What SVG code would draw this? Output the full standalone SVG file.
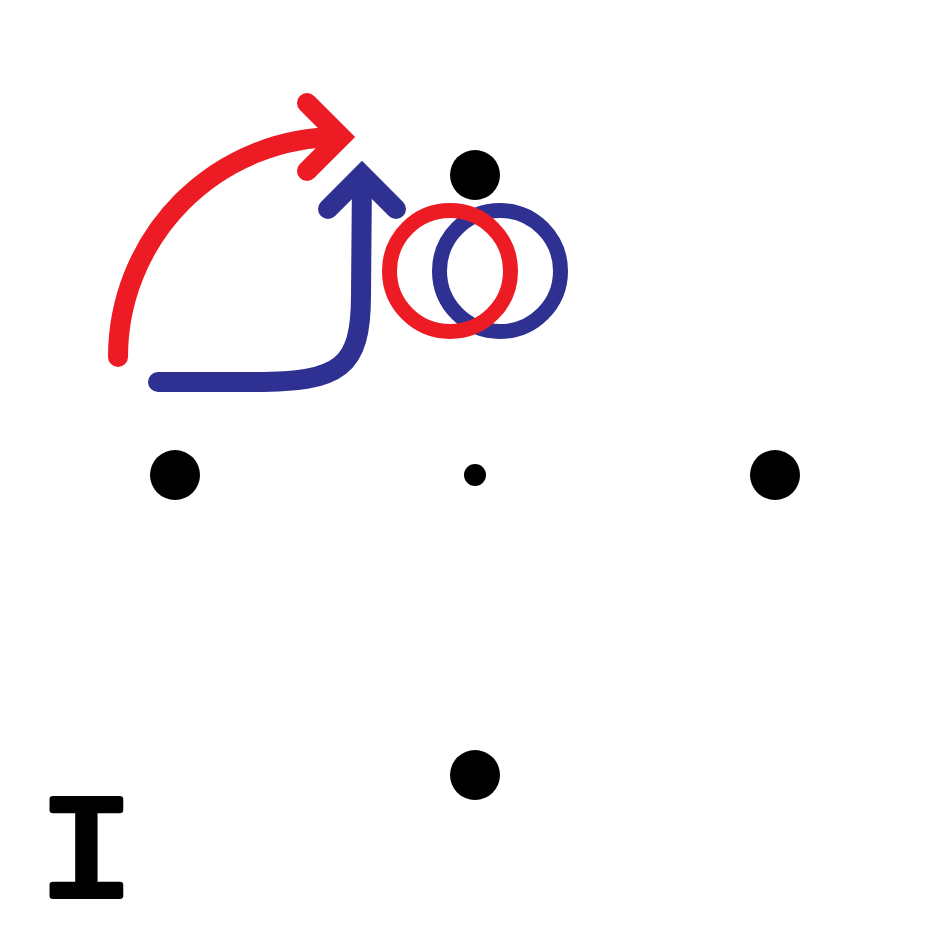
<svg xmlns="http://www.w3.org/2000/svg" width="950" height="950" viewBox="0 0 950 950">
<style>
.dot{fill:#000}
.ring{fill:none;stroke-width:15}
.arr{fill:none;stroke-width:20;stroke-linecap:round}
.head{fill:none;stroke-width:20;stroke-linecap:round;stroke-linejoin:miter}
.red{stroke:#ED1C24}
.blue{stroke:#2E3192}
</style>
<rect width="950" height="950" fill="#fff"/>
<g id="dots">
<circle class="dot" cx="475" cy="175" r="25"/>
<circle class="dot" cx="175" cy="475" r="25"/>
<circle class="dot" cx="775" cy="475" r="25"/>
<circle class="dot" cx="475" cy="775" r="25"/>
<circle class="dot" cx="475" cy="475" r="11"/>
</g>
<g id="rings">
<circle class="ring blue" cx="500" cy="271" r="60.5"/>
<circle class="ring red" cx="450" cy="271" r="60.5"/>
</g>
<g id="connectors">
<path class="arr red" d="M118,357 A220,220 0 0 1 338,137"/>
<polyline class="head red" points="307,103 341,137 307,171"/>
<path class="arr blue" d="M158,382 H255 C340,382 361,368 361,295 L362,178"/>
<polyline class="head blue" points="328,209 362,175 396,209"/>
</g>
<text transform="translate(86.5,896) scale(1.14,1)" x="0" y="0" font-family="Liberation Mono, monospace" font-size="146" text-anchor="middle" fill="#000" stroke="#000" stroke-width="6" stroke-linejoin="round">I</text>
</svg>
